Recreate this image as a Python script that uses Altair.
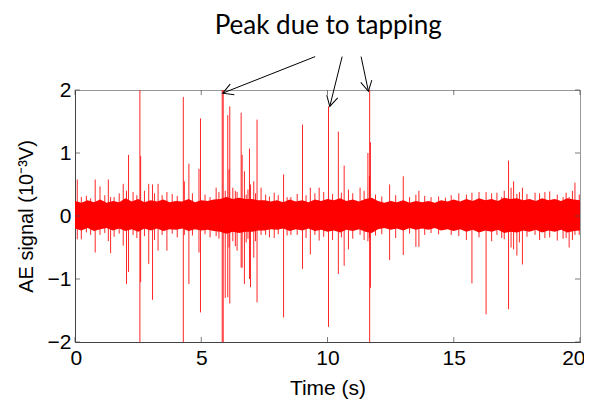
import altair as alt
import pandas as pd

RED = "#ff0000"

# ---- noise band envelope (read every 0.25 s) ----
env_t = [i * 0.25 for i in range(81)]
env_hi = [0.24, 0.21, 0.25, 0.22, 0.26, 0.21, 0.24, 0.22, 0.28, 0.23, 0.27, 0.22, 0.25, 0.23, 0.26, 0.22,
          0.24, 0.23, 0.27, 0.22, 0.25, 0.24, 0.26, 0.27, 0.30, 0.27, 0.29, 0.27, 0.27, 0.25, 0.25, 0.23,
          0.25, 0.22, 0.26, 0.23, 0.25, 0.22, 0.26, 0.24, 0.27, 0.25, 0.28, 0.24, 0.26, 0.23, 0.27, 0.29,
          0.24, 0.21, 0.24, 0.22, 0.25, 0.21, 0.24, 0.22, 0.24, 0.21, 0.25, 0.23, 0.26, 0.23, 0.27, 0.24,
          0.28, 0.25, 0.27, 0.24, 0.29, 0.27, 0.28, 0.25, 0.27, 0.24, 0.28, 0.25, 0.27, 0.24, 0.28, 0.26, 0.25]
env_lo = [-0.20, -0.23, -0.19, -0.24, -0.21, -0.19, -0.23, -0.20, -0.24, -0.21, -0.25, -0.20, -0.23, -0.20, -0.24, -0.21,
          -0.22, -0.20, -0.24, -0.21, -0.23, -0.22, -0.24, -0.25, -0.28, -0.25, -0.27, -0.25, -0.25, -0.23, -0.23, -0.21,
          -0.22, -0.20, -0.24, -0.21, -0.23, -0.20, -0.24, -0.22, -0.25, -0.23, -0.26, -0.22, -0.24, -0.21, -0.25, -0.27,
          -0.21, -0.19, -0.22, -0.20, -0.23, -0.19, -0.22, -0.20, -0.22, -0.19, -0.23, -0.21, -0.24, -0.21, -0.25, -0.22,
          -0.26, -0.23, -0.25, -0.22, -0.27, -0.25, -0.26, -0.23, -0.25, -0.22, -0.26, -0.23, -0.25, -0.22, -0.26, -0.24, -0.23]

# ---- spikes: time (s), top, bottom (10^-3 V) ----
spk_t = [0.09, 0.25, 0.80, 0.99, 1.32, 1.41, 1.91, 2.04, 2.12, 2.57, 2.60, 2.92, 3.07, 3.29, 3.64,
         4.29, 4.33, 4.51, 4.91, 4.97, 5.59, 5.83, 5.87, 5.95, 6.05, 6.10, 6.13, 6.42, 6.58, 6.62,
         6.71, 6.78, 6.91, 6.95, 7.08, 7.21, 7.37, 7.89, 8.26, 8.55, 9.01, 9.32, 9.67, 10.04, 10.43,
         10.66, 10.83, 11.29, 11.60, 11.66, 11.67, 11.70, 12.46, 13.00, 13.50, 13.62, 14.67, 15.72,
         16.28, 16.71, 16.90, 17.17, 17.27, 17.37, 17.50, 17.72, 18.22, 18.61, 19.33, 19.57, 19.80, 19.97]
spk_hi = [0.58, 0.30, 0.58, 0.47, 0.58, 0.30, 0.51, 0.40, 0.97, 2.00, 0.95, 0.51, 0.50, 0.51, 0.38,
          1.89, 0.55, 0.83, 0.75, 1.55, 0.45, 2.00, 2.00, 0.40, 1.60, 0.74, 1.74, 0.38, 1.64, 0.97,
          0.71, 0.34, 1.07, 0.50, 0.55, 1.53, 0.45, 0.37, 0.66, 0.30, 1.45, 0.45, 0.45, 1.74, 1.34,
          0.80, 0.42, 0.45, 1.00, 0.63, 2.00, 1.17, 0.50, 0.63, 0.34, 0.40, 0.29, 0.37,
          0.38, 0.37, 0.30, 0.88, 0.45, 0.55, 0.35, 0.45, 0.37, 0.38, 0.30, 0.30, 0.53, 0.34]
spk_lo = [-0.37, -0.37, -0.58, -0.30, -0.40, -0.59, -0.47, -1.08, -0.89, -2.00, -1.05, -0.76, -1.33, -0.55, -0.55,
          -2.00, -0.30, -1.08, -0.58, -1.53, -0.32, -2.00, -2.00, -1.30, -1.29, -0.50, -1.39, -0.55, -0.82, -0.82,
          -1.08, -0.42, -1.00, -1.13, -0.66, -1.37, -0.30, -0.35, -1.61, -0.30, -0.84, -0.61, -0.39, -1.76, -0.92,
          -0.79, -0.53, -0.30, -0.40, -0.35, -2.00, -1.14, -0.70, -0.62, -0.49, -0.49, -0.19, -1.07,
          -1.56, -0.30, -0.35, -1.48, -0.50, -0.53, -0.63, -0.77, -0.30, -0.35, -0.36, -0.50, -0.30, -0.30]

# ---- minor spikes on the edge of the noise band ----
min_t = [0.45, 0.62, 1.18, 1.55, 1.75, 2.30, 2.45, 2.75, 3.15, 3.45, 3.85, 4.05, 4.65, 5.15, 5.35, 5.70,
         6.25, 6.35, 6.85, 7.15, 7.55, 7.70, 8.05, 8.40, 8.80, 9.15, 9.50, 9.85, 10.20, 10.55, 11.00, 11.45,
         11.90, 12.15, 12.70, 13.25, 13.85, 14.10, 14.40, 14.90, 15.20, 15.50, 16.00, 16.50, 17.00, 17.60,
         17.90, 18.40, 18.80, 19.10, 19.45, 19.70]
min_hi = [0.32, 0.28, 0.33, 0.30, 0.36, 0.38, 0.33, 0.40, 0.36, 0.33, 0.35, 0.32, 0.36, 0.34, 0.30, 0.38,
          0.45, 0.40, 0.42, 0.36, 0.34, 0.31, 0.33, 0.30, 0.35, 0.33, 0.36, 0.38, 0.35, 0.37, 0.36, 0.40,
          0.34, 0.31, 0.33, 0.30, 0.32, 0.30, 0.31, 0.33, 0.36, 0.34, 0.38, 0.36, 0.40, 0.38,
          0.35, 0.36, 0.39, 0.34, 0.37, 0.40]
min_lo = [-0.26, -0.30, -0.27, -0.33, -0.28, -0.30, -0.35, -0.32, -0.38, -0.30, -0.28, -0.34, -0.31, -0.29, -0.34, -0.36,
          -0.40, -0.48, -0.36, -0.40, -0.30, -0.34, -0.29, -0.31, -0.30, -0.35, -0.30, -0.33, -0.38, -0.34, -0.36, -0.38,
          -0.31, -0.29, -0.35, -0.28, -0.30, -0.27, -0.29, -0.30, -0.32, -0.38, -0.34, -0.40, -0.37, -0.42,
          -0.33, -0.38, -0.34, -0.39, -0.35, -0.38]

# ---- annotation ----
note_text = "Peak due to tapping"
note_t = [10.03]
note_v = [3.02]
arrow_t0 = [9.51, 10.58, 11.33]
arrow_v0 = [2.53, 2.53, 2.53]
arrow_t1 = [5.85, 10.09, 11.62]
arrow_v1 = [1.95, 1.74, 1.98]
arrow_ang = [248.6, 193.9, 168.1]

x_ticks = [0, 5, 10, 15, 20]
y_ticks = [-2, -1, 0, 1, 2]

env_df = pd.DataFrame({"t": env_t, "hi": env_hi, "lo": env_lo})
spk_df = pd.DataFrame({"t": spk_t + min_t, "hi": spk_hi + min_hi, "lo": spk_lo + min_lo})
arr_df = pd.DataFrame({"t0": arrow_t0, "v0": arrow_v0, "t1": arrow_t1, "v1": arrow_v1, "ang": arrow_ang})
note_df = pd.DataFrame({"t": note_t, "v": note_v, "txt": [note_text]})
xt_df = pd.DataFrame({"t": x_ticks})
yt_df = pd.DataFrame({"v": y_ticks})

LABEL_FONT = "Liberation Sans, Arial, sans-serif"
TITLE_FONT = "Liberation Sans, Arial, sans-serif"

xscale = alt.Scale(domain=[0, 20], nice=False, zero=False)
yscale = alt.Scale(domain=[-2, 2], nice=False, zero=False)

xaxis = alt.Axis(values=x_ticks, format="d", title="Time (s)", grid=False, ticks=False,
                 labelFont=LABEL_FONT, labelFontSize=21, labelColor="black", labelPadding=5,
                 labelFlush=True, labelFlushOffset=5, domainColor="#444", titleFont=TITLE_FONT,
                 titleFontSize=21, titleFontWeight="normal", titleColor="black", titlePadding=9)
yaxis = alt.Axis(values=y_ticks, format="d", title="AE signal (10⁻³V)", grid=False, ticks=False,
                 labelFont=LABEL_FONT, labelFontSize=21, labelColor="black", labelPadding=4,
                 labelFlush=False, domainColor="#444", titleFont=TITLE_FONT, titleFontSize=20,
                 titleFontWeight="normal", titleColor="black", titlePadding=11)

band = alt.Chart(env_df).mark_area(color=RED, opacity=1, clip=True).encode(
    x=alt.X("t:Q", scale=xscale, axis=xaxis),
    y=alt.Y("lo:Q", scale=yscale, axis=yaxis),
    y2="hi:Q",
)

spikes = alt.Chart(spk_df).mark_rule(color=RED, strokeWidth=1, opacity=0.85, clip=True).encode(
    x="t:Q", y="lo:Q", y2="hi:Q"
)

tick_style = dict(color="#444", thickness=1, size=5)
bt = alt.Chart(xt_df).mark_tick(orient="vertical", yOffset=-2.5, **tick_style).encode(
    x="t:Q", y=alt.datum(-2))
tt = alt.Chart(xt_df).mark_tick(orient="vertical", yOffset=2.5, **tick_style).encode(
    x="t:Q", y=alt.datum(2))
lt = alt.Chart(yt_df).mark_tick(orient="horizontal", xOffset=2.5, **tick_style).encode(
    y="v:Q", x=alt.datum(0))
rt = alt.Chart(yt_df).mark_tick(orient="horizontal", xOffset=-2.5, **tick_style).encode(
    y="v:Q", x=alt.datum(20))

arrows = alt.Chart(arr_df).mark_rule(color="black", strokeWidth=1, clip=False).encode(
    x="t0:Q", y="v0:Q", x2="t1:Q", y2="v1:Q")
heads = alt.Chart(arr_df).mark_point(shape="M-0.55,1L0,0L0.55,1", size=420, filled=False,
                                      color="black", strokeWidth=1, opacity=1, clip=False).encode(
    x="t1:Q", y="v1:Q", angle=alt.Angle("ang:Q", scale=None))

note = alt.Chart(note_df).mark_text(font="Lato", fontSize=26, color="black", baseline="middle",
                                    align="center", clip=False).encode(
    x="t:Q", y="v:Q", text="txt:N")

chart = alt.layer(band, spikes, bt, tt, lt, rt, arrows, heads, note).properties(
    width=505, height=252,
    autosize=alt.AutoSizeParams(type="none"),
    padding={"left": 67, "top": 82, "right": 4, "bottom": 59},
    background="white",
).configure_view(stroke="#999", strokeWidth=1)

chart.save("out.html", embed_options={"renderer": "svg", "actions": False})
